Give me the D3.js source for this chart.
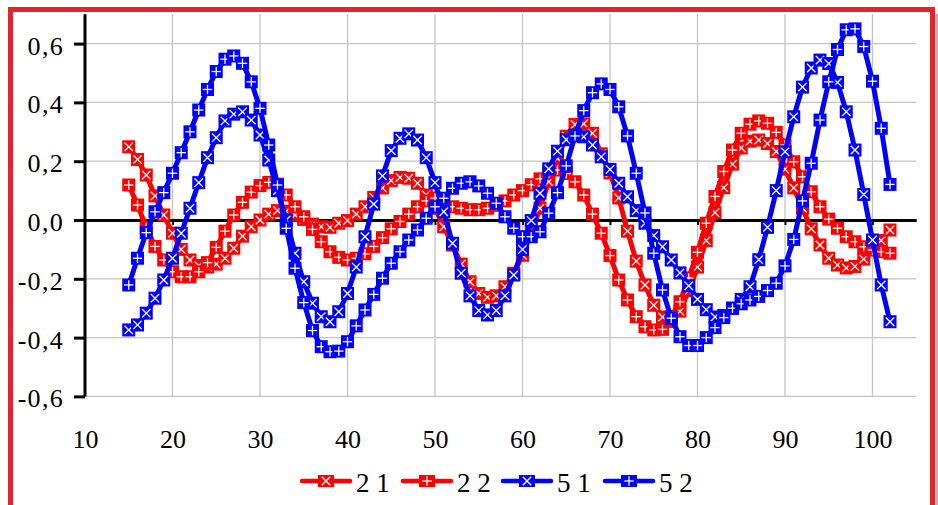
<!DOCTYPE html>
<html>
<head>
<meta charset="utf-8">
<script src="https://cdn.jsdelivr.net/npm/d3@7/dist/d3.min.js"></script>
<style>
  html, body { margin: 0; padding: 0; background: #fff; }
  svg { display: block; }
</style>
</head>
<body>
<div id="chart"></div>
<script>
// x positions (one marker per unit)
const xVals = [15,16,17,18,19,20,21,22,23,24,25,26,27,28,29,30,31,32,33,34,35,36,37,38,39,40,
  41,42,43,44,45,46,47,48,49,50,51,52,53,54,55,56,57,58,59,60,61,62,63,64,65,66,67,68,69,70,
  71,72,73,74,75,76,77,78,79,80,81,82,83,84,85,86,87,88,89,90,91,92,93,94,95,96,97,98,99,100,101,102];

const s21 = [0.249,0.206,0.153,0.082,0.017,-0.045,-0.1,-0.136,-0.155,-0.16,-0.15,-0.13,-0.096,-0.055,-0.023,0.0,
  0.02,0.032,0.03,0.017,0.002,-0.014,-0.023,-0.025,-0.011,-0.002,0.02,0.045,0.077,0.109,0.134,0.145,0.142,0.125,
  0.085,0.04,-0.023,-0.085,-0.15,-0.21,-0.25,-0.263,-0.258,-0.227,-0.181,-0.12,-0.045,0.04,0.13,0.21,0.285,0.325,
  0.327,0.295,0.225,0.16,0.075,-0.038,-0.14,-0.221,-0.29,-0.33,-0.345,-0.31,-0.24,-0.16,-0.07,0.025,0.11,0.19,
  0.245,0.268,0.272,0.26,0.233,0.173,0.109,0.04,-0.03,-0.085,-0.13,-0.153,-0.163,-0.158,-0.133,-0.1,-0.07,-0.034];

const s22 = [0.119,0.051,-0.025,-0.09,-0.136,-0.176,-0.193,-0.193,-0.176,-0.145,-0.093,-0.038,0.017,0.06,0.095,0.117,
  0.128,0.122,0.085,0.045,0.011,-0.032,-0.074,-0.108,-0.127,-0.136,-0.13,-0.115,-0.09,-0.06,-0.03,-0.005,0.02,0.045,
  0.065,0.075,0.06,0.045,0.04,0.035,0.035,0.04,0.05,0.065,0.085,0.1,0.12,0.14,0.16,0.17,0.158,0.13,0.085,0.02,
  -0.045,-0.121,-0.204,-0.272,-0.329,-0.363,-0.374,-0.372,-0.329,-0.278,-0.197,-0.11,-0.011,0.08,0.165,0.238,
  0.295,0.326,0.337,0.329,0.298,0.255,0.198,0.147,0.096,0.045,0.003,-0.028,-0.057,-0.074,-0.091,-0.102,-0.108,-0.113];

const s51 = [-0.374,-0.357,-0.317,-0.266,-0.204,-0.13,-0.045,0.04,0.127,0.212,0.28,0.337,0.36,0.368,0.34,0.289,
  0.204,0.1,0.0,-0.113,-0.21,-0.283,-0.329,-0.346,-0.312,-0.25,-0.16,-0.057,0.054,0.15,0.236,0.278,0.293,0.272,
  0.212,0.127,0.028,-0.079,-0.181,-0.258,-0.308,-0.323,-0.308,-0.258,-0.187,-0.1,-0.002,0.091,0.174,0.234,0.273,
  0.289,0.283,0.255,0.215,0.172,0.125,0.079,0.032,-0.011,-0.053,-0.091,-0.136,-0.18,-0.224,-0.27,-0.305,-0.33,
  -0.325,-0.3,-0.27,-0.227,-0.135,-0.025,0.1,0.232,0.351,0.452,0.517,0.544,0.532,0.468,0.368,0.238,0.087,-0.068,-0.221,-0.346];

const s52 = [-0.221,-0.13,-0.043,0.028,0.093,0.159,0.229,0.3,0.374,0.444,0.505,0.547,0.558,0.533,0.47,0.38,
  0.255,0.119,-0.028,-0.164,-0.281,-0.376,-0.431,-0.448,-0.446,-0.414,-0.36,-0.306,-0.253,-0.198,-0.147,-0.108,
  -0.068,-0.034,0.006,0.045,0.074,0.108,0.125,0.13,0.116,0.091,0.057,0.011,-0.028,-0.057,-0.057,-0.04,0.023,0.093,
  0.184,0.286,0.372,0.433,0.463,0.444,0.385,0.286,0.159,0.024,-0.113,-0.238,-0.334,-0.397,-0.427,-0.427,-0.4,
  -0.366,-0.332,-0.3,-0.285,-0.272,-0.26,-0.24,-0.215,-0.156,-0.066,0.065,0.193,0.34,0.47,0.58,0.647,0.65,0.59,0.472,0.312,0.121];

const seriesNames = ['2 1', '2 2', '5 1', '5 2'];
const seriesColors = ['#ff0000', '#ff0000', '#0000ff', '#0000ff'];
const seriesMarks = ['x', '+', 'x', '+'];
const seriesValues = [s21, s22, s51, s52];

const xTicks = [10, 20, 30, 40, 50, 60, 70, 80, 90, 100];
const yTicks = [-0.6, -0.4, -0.2, 0, 0.2, 0.4, 0.6];

const width = 938, height = 505;
const serif = '"Liberation Serif"';

const svg = d3.select('#chart').append('svg')
  .attr('width', width)
  .attr('height', height);

// frame
svg.append('rect')
  .attr('x', 935).attr('y', 14).attr('width', 3).attr('height', height)
  .attr('fill', '#b4b4b4');
svg.append('rect')
  .attr('x', 10.5).attr('y', 9.5).attr('width', 922).attr('height', 530)
  .attr('fill', '#fff')
  .attr('stroke', '#e9222a')
  .attr('stroke-width', 5);

const x = d3.scaleLinear().domain([10, 105]).range([85, 916.25]);
const y = d3.scaleLinear().domain([-0.6, 0.7]).range([396.4, 14.2]);

const fmt = v => d3.format('.1f')(v).replace('.', ',').replace('−', '-');

// grid
const grid = svg.append('g');
grid.selectAll('line.v')
  .data(xTicks.filter(d => d > 10))
  .enter().append('line')
  .attr('x1', d => x(d)).attr('x2', d => x(d))
  .attr('y1', y(0.7)).attr('y2', y(-0.6))
  .attr('stroke', '#c4c4c4').attr('stroke-width', 1.3);
grid.selectAll('line.h')
  .data(yTicks.filter(d => d !== 0))
  .enter().append('line')
  .attr('x1', x(10)).attr('x2', x(105))
  .attr('y1', d => y(d)).attr('y2', d => y(d))
  .attr('stroke', '#c4c4c4').attr('stroke-width', 1.3);

// y axis
const yAxis = svg.append('g')
  .attr('transform', `translate(${x(10)},0)`)
  .call(d3.axisLeft(y).tickValues(yTicks).tickFormat(fmt).tickSize(11).tickPadding(10).tickSizeOuter(0));
yAxis.select('.domain').attr('stroke', '#000').attr('stroke-width', 3)
  .attr('d', `M0,${y(0.7)}V${y(-0.6)}`);
yAxis.selectAll('.tick line').attr('stroke', '#000').attr('stroke-width', 3);
yAxis.selectAll('.tick text')
  .style('font-family', serif)
  .style('font-size', '26px')
  .style('letter-spacing', '1.3px')
  .attr('fill', '#000')
  .attr('dy', '0.4em');

// x axis line at zero with small ticks
const xAxis = svg.append('g')
  .attr('transform', `translate(0,${y(0)})`)
  .call(d3.axisBottom(x).tickValues(xTicks.filter(d => d > 10)).tickFormat('').tickSize(5).tickSizeOuter(0));
xAxis.select('.domain').attr('stroke', '#000').attr('stroke-width', 3);
xAxis.selectAll('.tick line').attr('stroke', '#000').attr('stroke-width', 2);

// x labels at the bottom
const xLabels = svg.append('g')
  .attr('transform', `translate(0,${y(-0.6)})`)
  .call(d3.axisBottom(x).tickValues(xTicks).tickSize(0).tickPadding(33));
xLabels.select('.domain').remove();
xLabels.selectAll('.tick text')
  .style('font-family', serif)
  .style('font-size', '26px')
  .attr('fill', '#000');

// series
function drawMarker(g, mark, color, w, h) {
  g.append('rect')
    .attr('x', -w / 2).attr('y', -h / 2).attr('width', w).attr('height', h)
    .attr('fill', color);
  const a = 4.2;
  const segs = mark === 'x'
    ? [[-a, -a, a, a], [-a, a, a, -a]]
    : [[-a - 0.5, 0, a + 0.5, 0], [0, -a - 0.5, 0, a + 0.5]];
  segs.forEach(s => {
    g.append('line')
      .attr('x1', s[0]).attr('y1', s[1]).attr('x2', s[2]).attr('y2', s[3])
      .attr('stroke', '#fff').attr('stroke-width', 1.3);
  });
}

const line = d3.line().x(d => x(d[0])).y(d => y(d[1]));

seriesValues.forEach((vals, i) => {
  const pts = xVals.map((xv, j) => [xv, vals[j]]);
  const g = svg.append('g');
  g.append('path')
    .datum(pts)
    .attr('fill', 'none')
    .attr('stroke', seriesColors[i])
    .attr('stroke-width', 5)
    .attr('stroke-linejoin', 'round')
    .attr('d', line);
  g.selectAll('g.pt')
    .data(pts)
    .enter().append('g')
    .attr('transform', d => `translate(${x(d[0])},${y(d[1])})`)
    .each(function () { drawMarker(d3.select(this), seriesMarks[i], seriesColors[i], 13, 13); });
});

// legend
const legendX = [302, 403, 503, 605];
const legend = svg.append('g');
seriesNames.forEach((name, i) => {
  const g = legend.append('g').attr('transform', `translate(${legendX[i]},481)`);
  g.append('line')
    .attr('x1', 0).attr('x2', 48).attr('y1', 0).attr('y2', 0)
    .attr('stroke', seriesColors[i]).attr('stroke-width', 4.5).attr('stroke-linecap', 'round');
  const m = g.append('g').attr('transform', 'translate(24,0)');
  drawMarker(m, seriesMarks[i], seriesColors[i], 16, 12);
  g.append('text')
    .attr('x', 54).attr('y', 11)
    .attr('fill', '#000')
    .style('font-family', serif)
    .style('font-size', '27px')
    .text(name);
});
</script>
</body>
</html>
